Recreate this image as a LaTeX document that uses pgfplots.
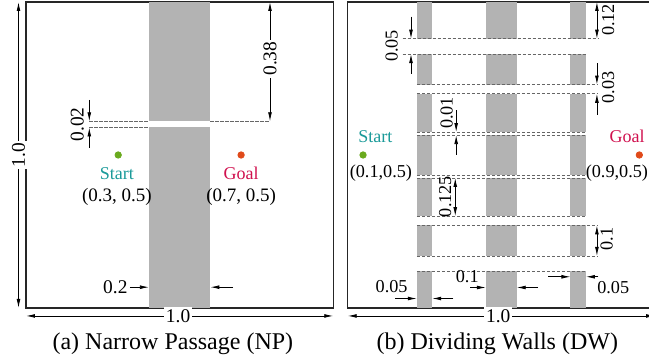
\documentclass[border=0pt]{standalone}
\usepackage{fontspec}
\setmainfont{Liberation Serif}
\usepackage{pgfplots}
\pgfplotsset{compat=1.18}
\usetikzlibrary{arrows.meta}
\definecolor{wallc}{HTML}{B3B3B3}
\definecolor{startdot}{HTML}{6AAA1E}
\definecolor{starttxt}{HTML}{1A9A99}
\definecolor{goaldot}{HTML}{E04A1A}
\definecolor{goaltxt}{HTML}{D0104E}
\newcommand{\rect}[4]{\addplot[fill=wallc,draw=none] coordinates {(#1,#2) (#3,#2) (#3,#4) (#1,#4)} -- cycle;}
\newcommand{\hdash}[3]{\addplot[dl] coordinates {(#1,#3) (#2,#3)};}
\newcommand{\wallcol}[2]{%
\rect{#1}{0}{#2}{0.12}\rect{#1}{0.17}{#2}{0.27}\rect{#1}{0.30}{#2}{0.425}%
\rect{#1}{0.435}{#2}{0.565}\rect{#1}{0.575}{#2}{0.70}\rect{#1}{0.73}{#2}{0.83}%
\rect{#1}{0.88}{#2}{1}}
\tikzset{
  dl/.style={dash pattern=on 1.6pt off 0.9pt, gray!80!black, line width=0.3pt},
  dim/.style={-{Latex[length=4.5pt,width=1.9pt]}, line width=0.4pt},
  ddim/.style={{Latex[length=4.5pt,width=1.9pt]}-{Latex[length=4.5pt,width=1.9pt]}, line width=0.4pt},
  la/.style={font=\fontsize{9.7}{11}\selectfont, inner sep=1pt},
  lb/.style={font=\fontsize{9.1}{11}\selectfont, inner sep=1pt},
  lc/.style={font=\fontsize{9.0}{11}\selectfont, inner sep=1pt},
  ld/.style={font=\fontsize{9.5}{11}\selectfont, inner sep=1pt},
  captxt/.style={font=\fontsize{12}{14}\selectfont, inner sep=1pt},
}
\pgfplotsset{panel/.style={anchor=south west, scale only axis, width=153.65pt, height=153pt,
  xmin=0,xmax=1,ymin=0,ymax=1, xtick=\empty, ytick=\empty, clip=false,
  axis line style={line width=0.6pt, black!85}}}
\begin{document}
\begin{tikzpicture}
\begin{axis}[panel, at={(13pt,27.5pt)}]
\rect{0.4}{0}{0.6}{0.59}
\rect{0.4}{0.61}{0.6}{1}
\hdash{0.206}{0.4}{0.61}
\hdash{0.6}{0.794}{0.61}
\hdash{0.206}{0.4}{0.59}
\draw[dim] (axis cs:0.206,0.68) -- (axis cs:0.206,0.61);
\draw[dim] (axis cs:0.206,0.523) -- (axis cs:0.206,0.59);
\node[la, rotate=90] at (axis cs:0.167,0.6) {0.02};
\draw[ddim] (axis cs:0.794,1) -- (axis cs:0.794,0.61);
\node[la, rotate=90, fill=white] at (axis cs:0.794,0.815) {0.38};
\draw[dim] (axis cs:0.338,0.068) -- (axis cs:0.4,0.068);
\draw[dim] (axis cs:0.674,0.068) -- (axis cs:0.6,0.068);
\node[la, anchor=east] at (axis cs:0.338,0.068) {0.2};
\addplot[only marks, mark=*, mark size=1.6pt, color=startdot] coordinates {(0.3,0.5)};
\addplot[only marks, mark=*, mark size=1.6pt, color=goaldot] coordinates {(0.7,0.5)};
\node[lc, text=starttxt] at (axis cs:0.296,0.44) {Start};
\node[lc, text=goaltxt] at (axis cs:0.7,0.44) {Goal};
\node[ld] at (axis cs:0.296,0.362) {(0.3, 0.5)};
\node[ld] at (axis cs:0.7,0.362) {(0.7, 0.5)};
\draw[ddim] (axis cs:-0.0244,1) -- (axis cs:-0.0244,0);
\node[la, rotate=90, fill=white] at (axis cs:-0.0244,0.5) {1.0};
\draw[ddim] (axis cs:0,-0.026) -- (axis cs:1,-0.026);
\node[la, fill=white] at (axis cs:0.495,-0.026) {1.0};
\node[captxt] at (axis cs:0.478,-0.118) {(a) Narrow Passage (NP)};
\end{axis}
\begin{axis}[panel, at={(173.85pt,27.5pt)}]
\wallcol{0.225}{0.275}
\wallcol{0.45}{0.55}
\wallcol{0.725}{0.775}
\hdash{0.179}{0.816}{0.88}
\hdash{0.179}{0.775}{0.83}
\hdash{0.225}{0.816}{0.73}
\hdash{0.225}{0.816}{0.70}
\hdash{0.225}{0.775}{0.575}
\hdash{0.225}{0.775}{0.565}
\hdash{0.225}{0.775}{0.435}
\hdash{0.225}{0.775}{0.425}
\hdash{0.225}{0.775}{0.30}
\hdash{0.225}{0.816}{0.27}
\hdash{0.225}{0.816}{0.17}
\hdash{0.225}{0.775}{0.12}
\draw[dim] (axis cs:0.206,0.952) -- (axis cs:0.206,0.88);
\draw[dim] (axis cs:0.206,0.766) -- (axis cs:0.206,0.83);
\node[lb, rotate=90] at (axis cs:0.143,0.856) {0.05};
\draw[ddim] (axis cs:0.811,1) -- (axis cs:0.811,0.88);
\node[lb, rotate=90] at (axis cs:0.848,0.941) {0.12};
\draw[dim] (axis cs:0.811,0.80) -- (axis cs:0.811,0.73);
\draw[dim] (axis cs:0.811,0.631) -- (axis cs:0.811,0.70);
\node[lb, rotate=90] at (axis cs:0.848,0.72) {0.03};
\draw[dim] (axis cs:0.353,0.647) -- (axis cs:0.353,0.575);
\draw[dim] (axis cs:0.353,0.5) -- (axis cs:0.353,0.565);
\node[lb, rotate=90] at (axis cs:0.322,0.637) {0.01};
\draw[ddim] (axis cs:0.35,0.425) -- (axis cs:0.35,0.30);
\node[lb, rotate=90] at (axis cs:0.317,0.364) {0.125};
\draw[ddim] (axis cs:0.811,0.27) -- (axis cs:0.811,0.17);
\node[lb, rotate=90] at (axis cs:0.843,0.225) {0.1};
\draw[dim] (axis cs:0.155,0.031) -- (axis cs:0.225,0.031);
\draw[dim] (axis cs:0.344,0.031) -- (axis cs:0.275,0.031);
\node[lb] at (axis cs:0.143,0.07) {0.05};
\draw[dim] (axis cs:0.398,0.067) -- (axis cs:0.45,0.067);
\draw[dim] (axis cs:0.62,0.067) -- (axis cs:0.55,0.067);
\node[lb] at (axis cs:0.389,0.102) {0.1};
\draw[dim] (axis cs:0.653,0.102) -- (axis cs:0.725,0.102);
\draw[dim] (axis cs:0.816,0.102) -- (axis cs:0.775,0.102);
\node[lb] at (axis cs:0.864,0.067) {0.05};
\addplot[only marks, mark=*, mark size=1.6pt, color=startdot] coordinates {(0.05,0.5)};
\addplot[only marks, mark=*, mark size=1.6pt, color=goaldot] coordinates {(0.949,0.5)};
\node[lc, text=starttxt] at (axis cs:0.09,0.56) {Start};
\node[lc, text=goaltxt] at (axis cs:0.909,0.56) {Goal};
\node[lb] at (axis cs:0.108,0.441) {(0.1,0.5)};
\node[lb] at (axis cs:0.876,0.441) {(0.9,0.5)};
\draw[ddim] (axis cs:0,-0.026) -- (axis cs:1,-0.026);
\node[la, fill=white] at (axis cs:0.49,-0.026) {1.0};
\node[captxt] at (axis cs:0.487,-0.118) {(b) Dividing Walls (DW)};
\end{axis}
\pgfresetboundingbox
\path[use as bounding box] (0,0) rectangle (324.5pt,181.5pt);
\end{tikzpicture}
\end{document}
